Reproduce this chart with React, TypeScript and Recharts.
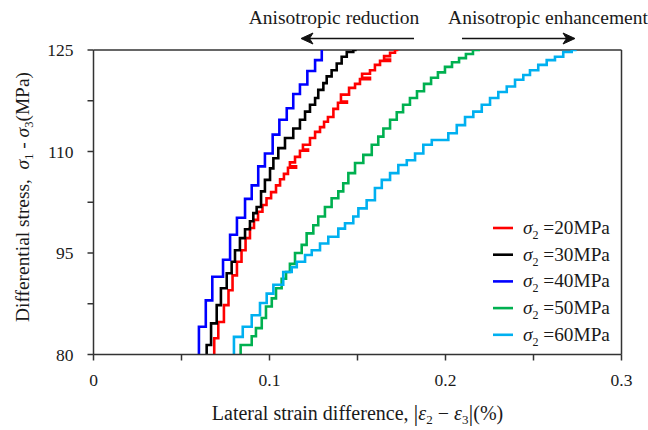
import React from 'react';
import { LineChart, Line, XAxis, YAxis, ReferenceLine, Legend } from 'recharts';

const FONT = "'Liberation Serif', 'Times New Roman', Times, serif";
const AXIS_COLOR = '#333333';
const TEXT_COLOR = '#1a1a1a';

// series labels & colours
const seriesNames = ['=20MPa', '=30MPa', '=40MPa', '=50MPa', '=60MPa'];
const seriesColors = ['#FF0000', '#000000', '#0000FF', '#00B050', '#00B0F0'];

// sigma2 = 20 MPa (red)
const strain20 = [0.0686, 0.0709, 0.0741, 0.0767, 0.0790, 0.0815, 0.0841, 0.0864, 0.0889, 0.0912, 0.0935, 0.0960, 0.0983, 0.1009, 0.1037, 0.1060, 0.1082, 0.1105, 0.1151, 0.1116, 0.1145, 0.1173, 0.1219, 0.1190, 0.1230, 0.1259, 0.1287, 0.1310, 0.1332, 0.1363, 0.1389, 0.1440, 0.1406, 0.1452, 0.1486, 0.1514, 0.1571, 0.1526, 0.1571, 0.1599, 0.1628, 0.1685, 0.1651, 0.1685, 0.1713, 0.1732];
const stress20 = [80, 82.4, 84.8, 87.3, 89.5, 91.7, 93.7, 95.4, 97.2, 98.7, 99.9, 101.1, 102.1, 103.1, 104.0, 105.0, 105.9, 106.7, 107.6, 107.8, 108.4, 109.2, 110.1, 110.3, 111.0, 112.0, 112.9, 113.6, 114.4, 115.1, 116.3, 117.2, 117.4, 118.4, 119.4, 120.0, 120.7, 120.9, 121.5, 122.0, 122.8, 123.4, 123.6, 124.1, 124.6, 125];

// sigma2 = 30 MPa (black)
const strain30 = [0.0643, 0.0668, 0.0700, 0.0724, 0.0757, 0.0785, 0.0804, 0.0832, 0.0861, 0.0889, 0.0908, 0.0927, 0.0952, 0.0974, 0.1003, 0.1022, 0.1050, 0.1088, 0.1135, 0.1173, 0.1202, 0.1230, 0.1259, 0.1277, 0.1306, 0.1325, 0.1353, 0.1382, 0.1410, 0.1439, 0.1476, 0.1495];
const stress30 = [80, 81.4, 84.6, 87.3, 89.8, 92.0, 93.7, 95.4, 97.2, 98.5, 99.7, 100.9, 101.8, 104.1, 105.8, 107.5, 109.0, 110.5, 112.0, 113.4, 114.7, 115.9, 116.9, 117.9, 119.1, 120.1, 121.1, 122.0, 123.0, 124.0, 124.7, 125];

// sigma2 = 40 MPa (blue)
const strain40 = [0.0599, 0.0638, 0.0675, 0.0736, 0.0776, 0.0815, 0.0861, 0.0899, 0.0936, 0.0974, 0.1018, 0.1056, 0.1098, 0.1135, 0.1173, 0.1215, 0.1259, 0.1297, 0.1297];
const stress40 = [80, 84.1, 88.0, 91.5, 94.0, 97.7, 100.2, 103.0, 105.0, 107.8, 109.7, 112.5, 114.7, 116.4, 118.5, 119.9, 121.9, 123.5, 125];

// sigma2 = 50 MPa (green)
const strain50 = [0.0836, 0.0899, 0.0923, 0.0956, 0.0980, 0.1013, 0.1037, 0.1069, 0.1094, 0.1116, 0.1145, 0.1183, 0.1211, 0.1249, 0.1277, 0.1315, 0.1353, 0.1391, 0.1419, 0.1448, 0.1486, 0.1533, 0.1581, 0.1618, 0.1647, 0.1685, 0.1723, 0.1759, 0.1798, 0.1838, 0.1878, 0.1918, 0.1957, 0.1997, 0.2037, 0.2077, 0.2116, 0.2156, 0.2196];
const stress50 = [80, 81.4, 82.7, 83.9, 85.4, 87.1, 88.3, 89.8, 91.2, 92.2, 93.4, 95.0, 96.2, 97.9, 99.1, 100.4, 101.8, 103.1, 104.1, 105.3, 106.8, 108.3, 109.5, 111.0, 112.2, 113.4, 114.7, 115.8, 116.9, 117.9, 118.9, 120.0, 120.9, 121.7, 122.5, 123.2, 123.8, 124.4, 125];

// sigma2 = 60 MPa (light blue)
const strain60 = [0.0798, 0.0848, 0.0899, 0.0946, 0.0984, 0.1022, 0.1078, 0.1126, 0.1155, 0.1202, 0.1240, 0.1287, 0.1334, 0.1391, 0.1429, 0.1476, 0.1505, 0.1552, 0.1599, 0.1638, 0.1685, 0.1732, 0.1780, 0.1827, 0.1874, 0.1922, 0.2016, 0.2064, 0.2111, 0.2158, 0.2206, 0.2253, 0.2300, 0.2348, 0.2395, 0.2442, 0.2480, 0.2527, 0.2575, 0.2622, 0.2669, 0.2717, 0.2745];
const stress60 = [80, 82.6, 84.1, 85.8, 87.6, 89.0, 90.3, 92.2, 92.9, 93.7, 94.7, 95.4, 96.4, 97.4, 98.6, 99.4, 100.4, 101.6, 102.8, 104.6, 105.8, 106.8, 108.0, 108.7, 109.7, 111.0, 111.7, 112.7, 113.9, 115.1, 115.9, 116.9, 117.9, 118.8, 119.6, 120.6, 121.3, 122.0, 122.8, 123.5, 124.0, 124.7, 125];

// axis ticks
const xTicks = [0, 0.05, 0.1, 0.15, 0.2, 0.25, 0.3];
const xTickLabels = ['0', '', '0.1', '', '0.2', '', '0.3'];
const yTicks = [80, 87.5, 95, 102.5, 110, 117.5, 125];
const yTickLabels = ['80', '', '95', '', '110', '', '125'];

const buildPoints = (xs: number[], ys: number[]) => xs.map((x, i) => ({ x, y: ys[i] }));

const series = [
  { name: seriesNames[0], color: seriesColors[0], points: buildPoints(strain20, stress20) },
  { name: seriesNames[1], color: seriesColors[1], points: buildPoints(strain30, stress30) },
  { name: seriesNames[2], color: seriesColors[2], points: buildPoints(strain40, stress40) },
  { name: seriesNames[3], color: seriesColors[3], points: buildPoints(strain50, stress50) },
  { name: seriesNames[4], color: seriesColors[4], points: buildPoints(strain60, stress60) },
];

const XTick = (props: any) => {
  const { x, y, payload } = props;
  const idx = xTicks.findIndex((t) => Math.abs(t - payload.value) < 1e-9);
  const label = idx >= 0 ? xTickLabels[idx] : '';
  if (!label) return null;
  return (
    <text x={x} y={y} dy="0.71em" textAnchor="middle" fontFamily={FONT} fontSize={17.5} fill={TEXT_COLOR}>
      {label}
    </text>
  );
};

const YTick = (props: any) => {
  const { x, y, payload } = props;
  const idx = yTicks.findIndex((t) => Math.abs(t - payload.value) < 1e-9);
  const label = idx >= 0 ? yTickLabels[idx] : '';
  if (!label) return null;
  return (
    <text x={x} y={y} dy="0.35em" textAnchor="end" fontFamily={FONT} fontSize={17.5} fill={TEXT_COLOR}>
      {label}
    </text>
  );
};

const XTitle = (props: any) => {
  const vb = props.viewBox || { x: 93.5, y: 354.5, width: 528, height: 30 };
  const cx = vb.x + vb.width / 2;
  const by = vb.y + 65;
  return (
    <text x={cx} y={by} textAnchor="middle" fontFamily={FONT} fontSize={20} fill={TEXT_COLOR} style={{ whiteSpace: 'pre' }}>
      Lateral strain difference,<tspan> </tspan>
      <tspan fontSize={24} dy={1}>|</tspan>
      <tspan fontStyle="italic" dy={-1}>ε</tspan>
      <tspan fontSize={13} dy={4}>2</tspan>
      <tspan dy={-4}> − </tspan>
      <tspan fontStyle="italic">ε</tspan>
      <tspan fontSize={13} dy={4}>3</tspan>
      <tspan fontSize={24} dy={-3}>|</tspan>
      <tspan dy={-1}>(%)</tspan>
    </text>
  );
};

const YTitle = () => {
  const cx = 29;
  const cy = 197;
  return (
    <text x={cx} y={cy} textAnchor="middle" fontFamily={FONT} fontSize={19.4} fill={TEXT_COLOR}
      transform={`rotate(-90, ${cx}, ${cy})`} style={{ whiteSpace: 'pre' }}>
      Differential stress,<tspan>  </tspan>
      <tspan fontStyle="italic">σ</tspan>
      <tspan fontSize={12.5} dy={4}>1</tspan>
      <tspan dy={-4}> - </tspan>
      <tspan fontStyle="italic">σ</tspan>
      <tspan fontSize={12.5} dy={4}>3</tspan>
      <tspan dy={-4}>(MPa)</tspan>
    </text>
  );
};

const LegendContent = () => (
  <svg width={140} height={135} style={{ display: 'block', overflow: 'visible' }}>
    {series.map((s, i) => {
      const ry = 14 + i * 26.7;
      return (
        <g key={s.name}>
          <line x1={5} x2={25} y1={ry} y2={ry} stroke={s.color} strokeWidth={2.6} />
          <text x={35} y={ry + 6} fontFamily={FONT} fontSize={19.3} fill={TEXT_COLOR} style={{ whiteSpace: 'pre' }}>
            <tspan fontStyle="italic">σ</tspan>
            <tspan fontSize={12} dy={5}>2</tspan>
            <tspan dy={-5}> {s.name}</tspan>
          </text>
        </g>
      );
    })}
  </svg>
);

const Annotations = () => (
  <svg width={648} height={50} style={{ position: 'absolute', left: 0, top: 0, pointerEvents: 'none' }}>
    <text x={334} y={24} textAnchor="middle" fontFamily={FONT} fontSize={19.5} fill={TEXT_COLOR}>Anisotropic reduction</text>
    <line x1={414} x2={304} y1={38.5} y2={38.5} stroke="#111" strokeWidth={1.5} />
    <path d="M301,38.5 L313,33 L309.5,38.5 L313,44 Z" fill="#111" stroke="#111" strokeWidth={1} />
    <text x={548} y={24} textAnchor="middle" fontFamily={FONT} fontSize={19.5} fill={TEXT_COLOR}>Anisotropic enhancement</text>
    <line x1={462} x2={572} y1={38.5} y2={38.5} stroke="#111" strokeWidth={1.5} />
    <path d="M575,38.5 L563,33 L566.5,38.5 L563,44 Z" fill="#111" stroke="#111" strokeWidth={1} />
  </svg>
);

export default function App() {
  return (
    <div style={{ position: 'absolute', left: 0, top: 0, width: 648, height: 430, background: '#ffffff' }}>
      <LineChart width={648} height={430} margin={{ top: 50, right: 26.5, bottom: 45.5, left: 33.5 }}>
        <XAxis
          type="number"
          dataKey="x"
          domain={[0, 0.3]}
          ticks={xTicks}
          interval={0}
          allowDataOverflow
          height={30}
          tickSize={6}
          tickMargin={13}
          tick={<XTick />}
          axisLine={{ stroke: AXIS_COLOR, strokeWidth: 1.5 }}
          tickLine={{ stroke: AXIS_COLOR, strokeWidth: 1.5 }}
          label={{ content: XTitle }}
        />
        <YAxis
          type="number"
          domain={[80, 125]}
          ticks={yTicks}
          interval={0}
          allowDataOverflow
          width={60}
          tickSize={6}
          tickMargin={14}
          tick={<YTick />}
          axisLine={{ stroke: AXIS_COLOR, strokeWidth: 1.5 }}
          tickLine={{ stroke: AXIS_COLOR, strokeWidth: 1.5 }}
          label={{ content: YTitle }}
        />
        <ReferenceLine y={125} stroke={AXIS_COLOR} strokeWidth={1.5} />
        <ReferenceLine x={0.3} stroke={AXIS_COLOR} strokeWidth={1.5} />
        {series.map((s) => (
          <Line
            key={s.name}
            name={s.name}
            data={s.points}
            dataKey="y"
            type="stepBefore"
            stroke={s.color}
            strokeWidth={2.6}
            dot={false}
            activeDot={false}
            isAnimationActive={false}
          />
        ))}
        <Legend
          layout="horizontal"
          verticalAlign="middle"
          align="center"
          content={LegendContent}
          wrapperStyle={{ left: 488, top: 214, width: 140, height: 135 }}
        />
      </LineChart>
      <Annotations />
    </div>
  );
}
